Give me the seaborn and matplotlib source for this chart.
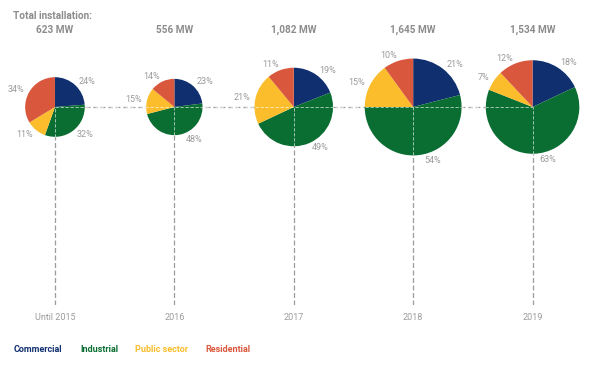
import matplotlib
matplotlib.use("Agg")
import matplotlib.pyplot as plt
import matplotlib.patches as mpatches
import numpy as np
import pandas as pd
import seaborn as sns

# ---- data ----
years = ["Until 2015", "2016", "2017", "2018", "2019"]
total_mw = [623, 556, 1082, 1645, 1534]
total_labels = ["623 MW", "556 MW", "1,082 MW", "1,645 MW", "1,534 MW"]
sectors = ["Commercial", "Industrial", "Public sector", "Residential"]
commercial = [24, 23, 19, 21, 18]
industrial = [32, 48, 49, 54, 63]
public_sector = [11, 15, 21, 15, 7]
residential = [34, 14, 11, 10, 12]

colors = ["#0f2f6f", "#0a6e32", "#fbbd2b", "#d9573c"]
grey = "#9b9b9b"

df = pd.DataFrame({"year": years, "Commercial": commercial, "Industrial": industrial,
                   "Public sector": public_sector, "Residential": residential,
                   "total": total_mw})

sns.set_theme(style="white")
plt.rcParams["font.family"] = ["Roboto", "DejaVu Sans"]

W, H = 589, 370
fig = plt.figure(figsize=(W / 100, H / 100), dpi=100)
ppu = 119.4  # pixels per data unit
ax_left, ax_bottom = 7.2, 65
ax_w, ax_h = 579, 305
ax = fig.add_axes([ax_left / W, ax_bottom / H, ax_w / W, ax_h / H])

xmin = -0.4
xlim = (xmin, xmin + ax_w / ppu)
ylim = (0, ax_h / ppu)
cy = (305 - 107) / ppu  # pie centre height
xs = np.arange(len(years))

# guide lines (behind)
ax.hlines(cy, xs[0], xs[-1], colors=grey, linestyles=(0, (4, 2)), lw=0.9, zorder=1)
ax.vlines(xs, 0, cy, colors=grey, linestyles=(0, (4, 2)), lw=0.9, zorder=1)

radii = []
for i, row in df.iterrows():
    vals = [row[s] for s in sectors]
    r = 0.01 * np.sqrt(row["total"])
    radii.append(r)
    ax.pie(vals, colors=colors, startangle=90, counterclock=False,
           center=(xs[i], cy), radius=r, frame=True,
           wedgeprops=dict(linewidth=0, zorder=2))
    # percentage labels just outside the rim
    tot = sum(vals)
    ang0 = 90.0
    for v in vals:
        mid = ang0 - v / tot * 360 / 2
        ang0 -= v / tot * 360
        c, s = np.cos(np.radians(mid)), np.sin(np.radians(mid))
        d = r + 0.045
        if c > 0.0:
            ha = "left"
        elif c < -0.05:
            ha = "right"
        else:
            ha = "center"
        dx = 0.04 if s < -0.95 else 0.0
        ax.text(xs[i] + d * c + dx, cy + d * s, f"{v}%", ha=ha, va="center",
                fontsize=6.5, color=grey, zorder=4)

# light guide lines over pies
ax.hlines(cy, xs[0], xs[-1], colors="white", linestyles=(0, (4, 2)), lw=0.6, alpha=0.7, zorder=3)
ax.vlines(xs, cy - np.array(radii), cy, colors="white",
          linestyles=(0, (4, 2)), lw=0.6, alpha=0.7, zorder=3)

# total labels
for i, lab in enumerate(total_labels):
    ax.text(xs[i], (305 - 30) / ppu, lab, ha="center", va="center",
            fontsize=7.2, fontweight="bold", color="#8c8c8c")
fig.text(13 / W, 1 - 16 / H, "Total installation:", ha="left", va="center",
         fontsize=7.2, fontweight="bold", color="#8c8c8c")

ax.set_aspect("equal", adjustable="box")
ax.set_xlim(*xlim)
ax.set_ylim(*ylim)
ax.set_xticks(xs)
ax.set_xticklabels(years, fontsize=6.5, color=grey)
ax.set_yticks([])
ax.tick_params(axis="x", length=0, pad=6)
for sp in ax.spines.values():
    sp.set_visible(False)
ax.grid(False)

# legend as coloured text
handles = [mpatches.Patch(color="none", label=s) for s in sectors]
fig.legend(handles=handles, loc="center left", bbox_to_anchor=(6 / W, 20 / H),
           ncol=4, frameon=False, handlelength=0, handletextpad=0,
           columnspacing=1.9, labelcolor=colors,
           prop=dict(size=6.5, weight="bold"))

fig.savefig("out.png", dpi=100)
